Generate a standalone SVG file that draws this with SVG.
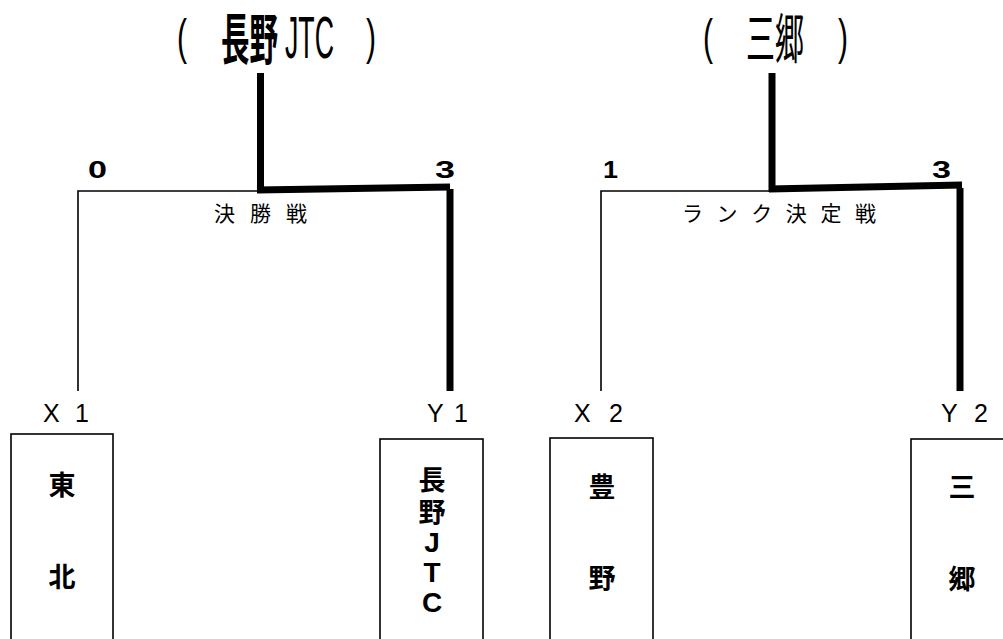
<svg xmlns="http://www.w3.org/2000/svg" width="1003" height="639" viewBox="0 0 1003 639">
<style>
.thin{stroke:#000;stroke-width:1.6;fill:none}
.thick{stroke:#000;stroke-width:7;fill:none;stroke-linecap:butt}
.box{fill:#fff;stroke:#000;stroke-width:1.6}
.title{font-family:"Noto Sans CJK JP","Liberation Sans",sans-serif;fill:#000}
.lat{font-family:"Liberation Sans",sans-serif;fill:#000}
.score{font-family:"Liberation Sans",sans-serif;font-weight:bold;font-size:23px;fill:#000}
.round{font-family:"Noto Sans CJK JP",sans-serif;font-size:21px;fill:#000}
.lbl{font-family:"Liberation Sans",sans-serif;font-size:25px;fill:#000}
.name{font-family:"Noto Sans CJK JP",sans-serif;font-weight:bold;font-size:27px;fill:#000;text-anchor:middle}
.namel{font-family:"Liberation Sans",sans-serif;font-weight:bold;font-size:28px;fill:#000;text-anchor:middle}
</style>
<rect width="1003" height="639" fill="#fff"/>
<g id="title1">
<text class="lat" x="177" y="54" font-size="50" textLength="10" lengthAdjust="spacingAndGlyphs">(</text>
<text class="title" x="221" y="59" font-size="55" font-weight="bold" textLength="57" lengthAdjust="spacingAndGlyphs">長野</text>
<text class="lat" x="285" y="58" font-size="60" textLength="49" lengthAdjust="spacingAndGlyphs">JTC</text>
<text class="lat" x="366" y="54" font-size="50" textLength="10" lengthAdjust="spacingAndGlyphs">)</text>
</g>
<g id="title2">
<text class="lat" x="703" y="54" font-size="50" textLength="10" lengthAdjust="spacingAndGlyphs">(</text>
<text class="title" x="746" y="59" font-size="54" textLength="58" lengthAdjust="spacingAndGlyphs">三郷</text>
<text class="lat" x="838" y="54" font-size="50" textLength="10" lengthAdjust="spacingAndGlyphs">)</text>
</g>
<g id="connectors">
<polyline class="thin" points="78,391 78,191 260,191"/>
<line class="thick" x1="260.5" y1="73" x2="260.5" y2="193"/>
<line class="thick" x1="257" y1="190" x2="450" y2="187"/>
<line class="thick" x1="450" y1="189" x2="450" y2="391"/>
<polyline class="thin" points="601,391 601,191 772,191"/>
<line class="thick" x1="772" y1="73" x2="772" y2="192"/>
<line class="thick" x1="769" y1="189" x2="962" y2="185"/>
<line class="thick" x1="960" y1="188" x2="960" y2="391"/>
</g>
<g id="scores">
<text class="score" x="88" y="178" textLength="19" lengthAdjust="spacingAndGlyphs">0</text>
<text class="score" x="435" y="178" textLength="20" lengthAdjust="spacingAndGlyphs">3</text>
<text class="score" x="603" y="178" textLength="15" lengthAdjust="spacingAndGlyphs">1</text>
<text class="score" x="932" y="178" textLength="19" lengthAdjust="spacingAndGlyphs">3</text>
</g>
<g id="rounds">
<text class="round" x="214" y="221" textLength="93" lengthAdjust="spacing">決勝戦</text>
<text class="round" x="682" y="221" textLength="194" lengthAdjust="spacing">ランク決定戦</text>
</g>
<g id="X1">
<text class="lbl" x="43" y="422" textLength="46" lengthAdjust="spacing">X 1</text>
<rect class="box" x="11" y="434" width="102" height="215"/>
<text class="name" x="62" y="495">東</text>
<text class="name" x="62" y="587">北</text>
</g>
<g id="Y1">
<text class="lbl" x="427" y="422" textLength="41" lengthAdjust="spacing">Y 1</text>
<rect class="box" x="380" y="439" width="103" height="210"/>
<text class="name" x="432" y="490">長</text>
<text class="name" x="432" y="522">野</text>
<text class="namel" x="432" y="552">J</text>
<text class="namel" x="432" y="582">T</text>
<text class="namel" x="432" y="612">C</text>
</g>
<g id="X2">
<text class="lbl" x="574" y="422" textLength="49" lengthAdjust="spacing">X 2</text>
<rect class="box" x="550" y="438" width="103" height="211"/>
<text class="name" x="602" y="497">豊</text>
<text class="name" x="602" y="588">野</text>
</g>
<g id="Y2">
<text class="lbl" x="941" y="422" textLength="47" lengthAdjust="spacing">Y 2</text>
<rect class="box" x="911" y="439" width="103" height="210"/>
<text class="name" x="962" y="497">三</text>
<text class="name" x="962" y="589">郷</text>
</g>
</svg>
